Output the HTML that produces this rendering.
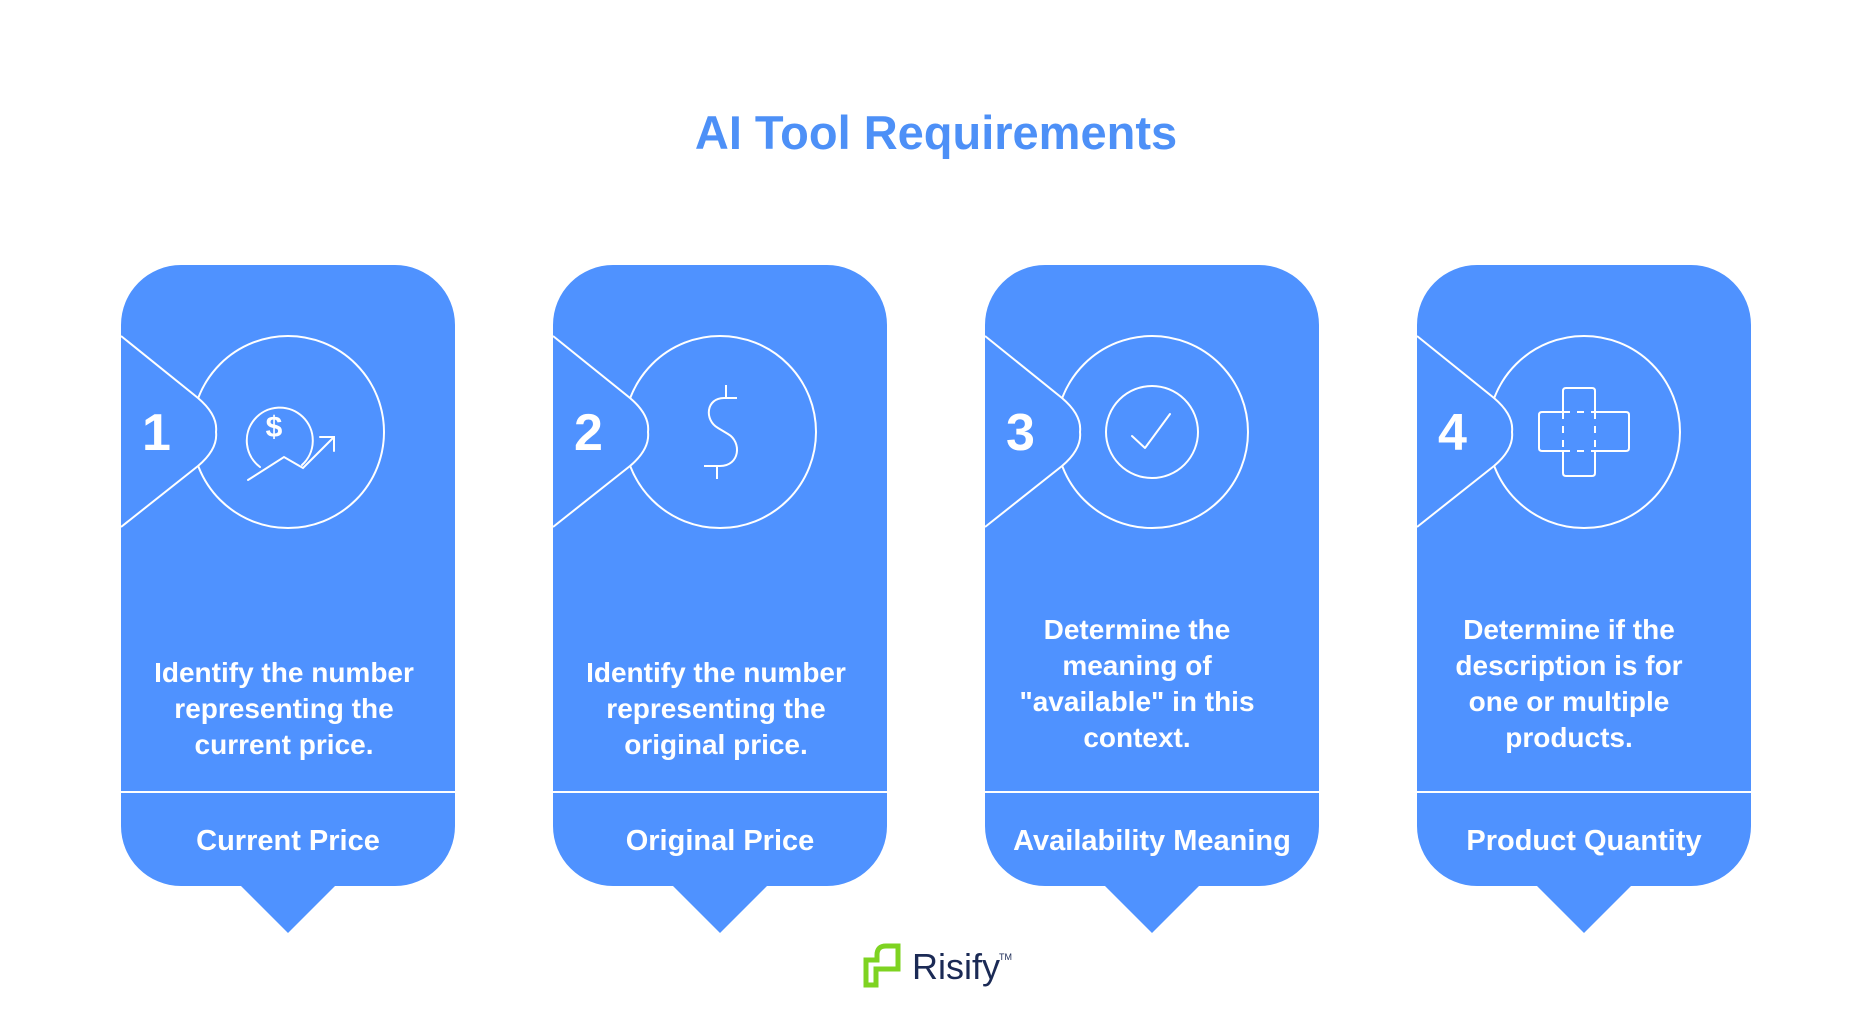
<!DOCTYPE html>
<html><head><meta charset="utf-8"><style>
html,body{margin:0;padding:0;background:#fff;width:1872px;height:1025px;overflow:hidden}
svg{display:block}
text{font-family:"Liberation Sans",sans-serif;font-weight:bold}
</style></head><body>
<svg width="1872" height="1025" viewBox="0 0 1872 1025" xmlns="http://www.w3.org/2000/svg">
<text x="936" y="149" text-anchor="middle" font-size="47" fill="#4D90F7">AI Tool Requirements</text>

<g id="c1" transform="translate(121,0)">
<path d="M60,265 H274 A60,60 0 0 1 334,325 V826 A60,60 0 0 1 274,886 H214 L167,933 L120,886 H60 A60,60 0 0 1 0,826 V325 A60,60 0 0 1 60,265 Z" fill="#4F92FF"/>
<line x1="0" y1="792" x2="334" y2="792" stroke="#fff" stroke-width="2"/>
<circle cx="167" cy="432" r="96" fill="none" stroke="#fff" stroke-width="2"/>
<path d="M0,336 L77,398 Q97,415 95,432 Q97,449 77,466 L0,527 Z" fill="#4F92FF" stroke="none"/>
<path d="M0,336 L77,398 Q97,415 95,432 Q97,449 77,466 L0,527" fill="none" stroke="#fff" stroke-width="2"/>
</g>
<use href="#c1" x="432"/><use href="#c1" x="864"/><use href="#c1" x="1296"/>

<g fill="#fff" font-size="52">
<text x="142" y="450">1</text><text x="574" y="450">2</text><text x="1006" y="450">3</text><text x="1438" y="450">4</text>
</g>

<!-- icon 1 -->
<g fill="none" stroke="#fff" stroke-width="2" stroke-linecap="round">
<path d="M260,467 A33,33 0 1 1 302,465"/>
<text x="274" y="437" text-anchor="middle" font-size="30" fill="#fff" stroke="none" font-weight="normal">$</text>
<path d="M248,480 L284,457 L303,468 L334,437 M320,437 H334 V451"/>
</g>
<!-- icon 2 -->
<g fill="none" stroke="#fff" stroke-width="2">
<path d="M726,385 V398 M737,398 H724 C706,398 704,420 718,428 L728,434 C742,442 740,466 720,466 H704 M717,466 V479"/>
</g>
<!-- icon 3 -->
<g fill="none" stroke="#fff" stroke-width="2" stroke-linecap="round" stroke-linejoin="round">
<circle cx="1152" cy="432" r="46"/>
<path d="M1132,436 L1145,448 L1170,414"/>
</g>
<!-- icon 4 -->
<g fill="none" stroke="#fff" stroke-width="2">
<path d="M1566,388 H1592 Q1595,388 1595,391 V412 H1626 Q1629,412 1629,415 V448 Q1629,451 1626,451 H1595 V473 Q1595,476 1592,476 H1566 Q1563,476 1563,473 V451 H1542 Q1539,451 1539,448 V415 Q1539,412 1542,412 H1563 V391 Q1563,388 1566,388 Z"/>
<path d="M1563,412 V451 M1595,412 V451 M1563,412 H1595 M1563,451 H1595" stroke-dasharray="7,7"/>
</g>

<g fill="#fff" font-size="28" text-anchor="middle">
<text x="284" y="682">Identify the number</text>
<text x="284" y="718">representing the</text>
<text x="284" y="754">current price.</text>
<text x="716" y="682">Identify the number</text>
<text x="716" y="718">representing the</text>
<text x="716" y="754">original price.</text>
<text x="1137" y="639">Determine the</text>
<text x="1137" y="675">meaning of</text>
<text x="1137" y="711">"available" in this</text>
<text x="1137" y="747">context.</text>
<text x="1569" y="639">Determine if the</text>
<text x="1569" y="675">description is for</text>
<text x="1569" y="711">one or multiple</text>
<text x="1569" y="747">products.</text>
</g>
<g fill="#fff" font-size="29" text-anchor="middle">
<text x="288" y="850">Current Price</text>
<text x="720" y="850">Original Price</text>
<text x="1152" y="850">Availability Meaning</text>
<text x="1584" y="850">Product Quantity</text>
</g>

<!-- logo -->
<path d="M866,985 V960 H877 V955 Q877,946 886,946 H898 V969 H876 V985 Z" fill="none" stroke="#7ED321" stroke-width="5"/>
<text x="912" y="979" font-size="36" fill="#1B2A55" style="font-weight:normal">Risify</text>
<text x="999" y="960" font-size="9" fill="#1B2A55" style="font-weight:normal">TM</text>
</svg>
</body></html>
